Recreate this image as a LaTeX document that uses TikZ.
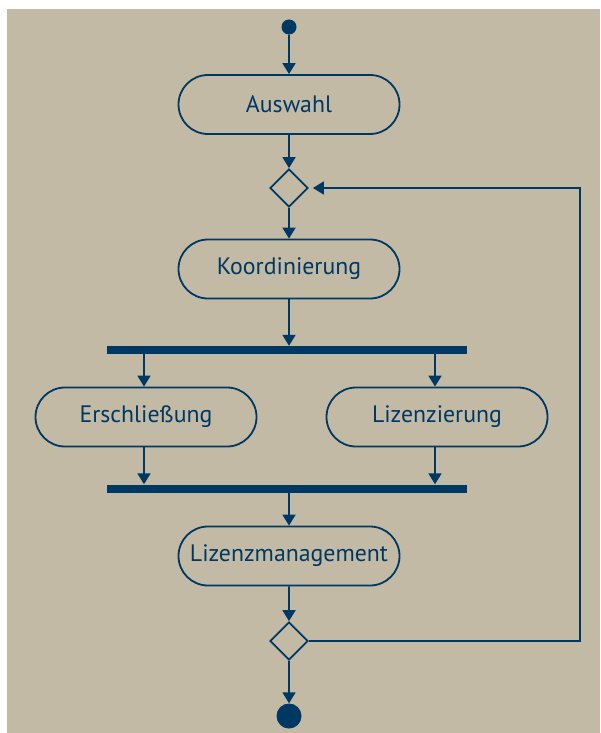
\documentclass[tikz,border=0pt]{standalone}
\usepackage{fontspec}
\setmainfont{PT Sans}
\usetikzlibrary{shapes.misc,shapes.geometric,arrows.meta,calc}
\definecolor{bgc}{RGB}{194,186,165}
\definecolor{nav}{RGB}{0,56,100}
\begin{document}
\begin{tikzpicture}[x=1pt,y=-1pt,
  act/.style={rounded rectangle,draw=nav,line width=1.8pt,minimum width=221pt,minimum height=59pt,inner sep=0pt,text=nav,font=\fontsize{23.8}{24}\selectfont},
  dec/.style={diamond,draw=nav,line width=1.8pt,minimum width=38pt,minimum height=38pt,inner sep=0pt},
  bar/.style={rectangle,fill=nav,minimum width=360pt,minimum height=8pt,inner sep=0pt},
  flow/.style={draw=nav,line width=1.8pt,-{Triangle[width=13pt,length=11pt]}},
  line/.style={draw=nav,line width=1.8pt}]
\useasboundingbox (0,0) rectangle (600,733);
\fill[bgc] (7,9) rectangle (600,733);
\node[circle,fill=nav,minimum size=15pt,inner sep=0pt] (start) at (289,27) {};
\node[act] (auswahl) at (289,104.5) {Auswahl};
\node[dec] (d1) at (289,188) {};
\node[act] (koord) at (289,269) {Koordinierung};
\node[bar] (fork) at (287,350) {};
\node[act] (erschl) at (146,417) {Erschließung};
\node[act] (lizenz) at (437,417) {Lizenzierung};
\node[bar] (join) at (287,488.5) {};
\node[act] (lizman) at (289,556) {Lizenzmanagement};
\node[dec] (d2) at (289,641) {};
\node[circle,fill=nav,minimum size=25pt,inner sep=0pt] (end) at (289,716) {};
\coordinate (loop) at (580,641);
\draw[flow] (start) -- (auswahl);
\draw[flow] (auswahl) -- (d1);
\draw[flow] (d1) -- (koord);
\draw[flow] (koord.south) -- (koord.south |- fork.north);
\draw[flow] ([xshift=-2pt]fork.south -| erschl) -- ([xshift=-2pt]erschl.north);
\draw[flow] ([xshift=-2pt]fork.south -| lizenz) -- ([xshift=-2pt]lizenz.north);
\draw[flow] ([xshift=-2pt]erschl.south) -- ([xshift=-2pt]join.north -| erschl);
\draw[flow] ([xshift=-2pt]lizenz.south) -- ([xshift=-2pt]join.north -| lizenz);
\draw[flow] (join.south -| lizman) -- (lizman.north);
\draw[flow] (lizman) -- (d2);
\draw[flow] (d2) -- (end);
\draw[flow] (d2.east) -- (loop) |- ([xshift=4pt]d1.east);
\end{tikzpicture}
\end{document}
